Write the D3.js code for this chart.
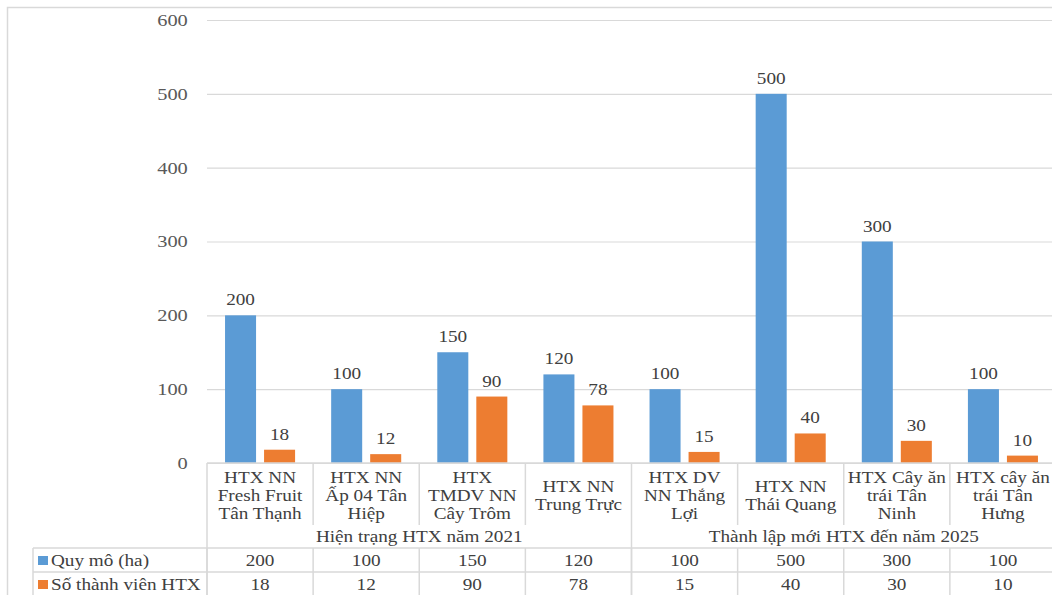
<!DOCTYPE html>
<html>
<head>
<meta charset="utf-8">
<script src="https://cdn.jsdelivr.net/npm/d3@7"></script>
<style>
  html, body { margin: 0; padding: 0; background: #fff; }
  svg { display: block; font-family: "Liberation Serif", "Times New Roman", serif; }
</style>
</head>
<body>
<svg id="chart" width="1052" height="595"></svg>
<script>
// data
const categories = [
  ['HTX NN', 'Fresh Fruit', 'Tân Thạnh'],
  ['HTX NN', 'Ấp 04 Tân', 'Hiệp'],
  ['HTX', 'TMDV NN', 'Cây Trôm'],
  ['HTX NN', 'Trung Trực'],
  ['HTX DV', 'NN Thắng', 'Lợi'],
  ['HTX NN', 'Thái Quang'],
  ['HTX Cây ăn', 'trái Tân', 'Ninh'],
  ['HTX cây ăn', 'trái Tân', 'Hưng']
];
const groups = ['Hiện trạng HTX năm 2021', 'Thành lập mới HTX đến năm 2025'];
const groupSizes = [4, 4];
const seriesNames = ['Quy mô (ha)', 'Số thành viên HTX'];
const quyMo = [200, 100, 150, 120, 100, 500, 300, 100];
const soThanhVien = [18, 12, 90, 78, 15, 40, 30, 10];
const yTicks = [0, 100, 200, 300, 400, 500, 600];

const colors = ['#5b9bd5', '#ed7d31'];
const gridColor = '#d9d9d9';
const textColor = '#404040';
const stretch = 1.2; // text in the source is stretched horizontally
const fs = 16;

const svg = d3.select('#chart');
const plotLeft = 207, plotRight = 1056, plotTop = 20, plotBottom = 463;

const keys = categories.map((c, i) => 'c' + i);
const rows = keys.map((k, i) => ({ key: k, values: [quyMo[i], soThanhVien[i]] }));

const x0 = d3.scaleBand().domain(keys).range([plotLeft, plotRight]);
const bw = x0.bandwidth();
const x1 = d3.scaleBand().domain([0, 1]).range([bw * 0.17, bw * 0.83]).paddingInner(0.205);
const y = d3.scaleLinear().domain([0, 600]).range([plotBottom, plotTop]);

// helper for stretched text
function label(g, x, yy, txt, size, anchor, color) {
  return g.append('text')
    .attr('transform', `translate(${x},${yy}) scale(${stretch},1)`)
    .attr('text-anchor', anchor)
    .attr('font-size', size)
    .attr('fill', color || textColor)
    .text(txt);
}

// outer border
svg.append('path')
  .attr('d', `M7.5,595 V7.5 H1060`)
  .attr('fill', 'none')
  .attr('stroke', gridColor)
  .attr('stroke-width', 1.5);

// y axis with gridlines
const yAxis = svg.append('g')
  .attr('transform', `translate(${plotLeft},0)`)
  .call(d3.axisLeft(y).tickValues(yTicks).tickSize(-(plotRight - plotLeft + 10)).tickPadding(16));
yAxis.select('.domain').remove();
yAxis.selectAll('.tick line').attr('stroke', gridColor).attr('stroke-width', 1.2);
yAxis.selectAll('.tick text')
  .attr('font-size', 17)
  .attr('font-family', '"Liberation Serif", serif')
  .attr('fill', '#595959')
  .attr('transform', `scale(${stretch},1)`);

// bars
const cat = svg.append('g').selectAll('g')
  .data(rows)
  .join('g')
  .attr('transform', d => `translate(${x0(d.key)},0)`);

cat.selectAll('rect')
  .data(d => d.values.map((v, s) => ({ v, s })))
  .join('rect')
  .attr('x', d => x1(d.s))
  .attr('width', x1.bandwidth())
  .attr('y', d => y(d.v))
  .attr('height', d => y(0) - y(d.v))
  .attr('fill', d => colors[d.s]);

cat.each(function(d) {
  const g = d3.select(this);
  d.values.forEach((v, s) => {
    label(g, x1(s) + x1.bandwidth() / 2, y(v) - 10, v, fs, 'middle');
  });
});

// data table lines
const lines = svg.append('g').attr('stroke', gridColor).attr('stroke-width', 1.5);
const rowTop = 548, rowMid = 572, rowBot = 595;
lines.append('line').attr('x1', plotLeft).attr('x2', plotRight + 10).attr('y1', plotBottom).attr('y2', plotBottom);
[rowTop, rowMid].forEach(yy => {
  lines.append('line').attr('x1', 33).attr('x2', plotRight + 10).attr('y1', yy).attr('y2', yy);
});
lines.append('line').attr('x1', 33).attr('x2', 33).attr('y1', rowTop).attr('y2', rowBot);

// category separators
const groupEdges = [0];
groupSizes.forEach(n => groupEdges.push(groupEdges[groupEdges.length - 1] + n));
keys.concat(['end']).forEach((k, i) => {
  const xx = i < keys.length ? x0(k) : plotRight;
  const isGroupEdge = groupEdges.includes(i);
  lines.append('line')
    .attr('x1', xx).attr('x2', xx)
    .attr('y1', plotBottom)
    .attr('y2', isGroupEdge ? rowBot : 525);
  lines.append('line')
    .attr('x1', xx).attr('x2', xx)
    .attr('y1', rowTop).attr('y2', rowBot);
});

// category labels
const labels = svg.append('g');
categories.forEach((lns, i) => {
  const cx = x0(keys[i]) + bw / 2;
  const y0 = lns.length === 3 ? 483 : 492;
  lns.forEach((t, j) => label(labels, cx, y0 + j * 18, t, fs, 'middle'));
});

// group labels
let start = 0;
groups.forEach((gname, gi) => {
  const a = x0(keys[start]);
  const endIdx = start + groupSizes[gi];
  const b = endIdx < keys.length ? x0(keys[endIdx]) : plotRight;
  label(labels, (a + b) / 2, 542, gname, fs, 'middle');
  start = endIdx;
});

// table rows
const series = [quyMo, soThanhVien];
series.forEach((vals, s) => {
  const base = s === 0 ? 566 : 590;
  const top0 = s === 0 ? rowTop : rowMid;
  labels.append('rect')
    .attr('x', 38).attr('y', top0 + 8)
    .attr('width', 10).attr('height', 9)
    .attr('fill', colors[s]);
  label(labels, 51, base, seriesNames[s], fs, 'start');
  vals.forEach((v, i) => label(labels, x0(keys[i]) + bw / 2, base, v, fs, 'middle'));
});
</script>
</body>
</html>
